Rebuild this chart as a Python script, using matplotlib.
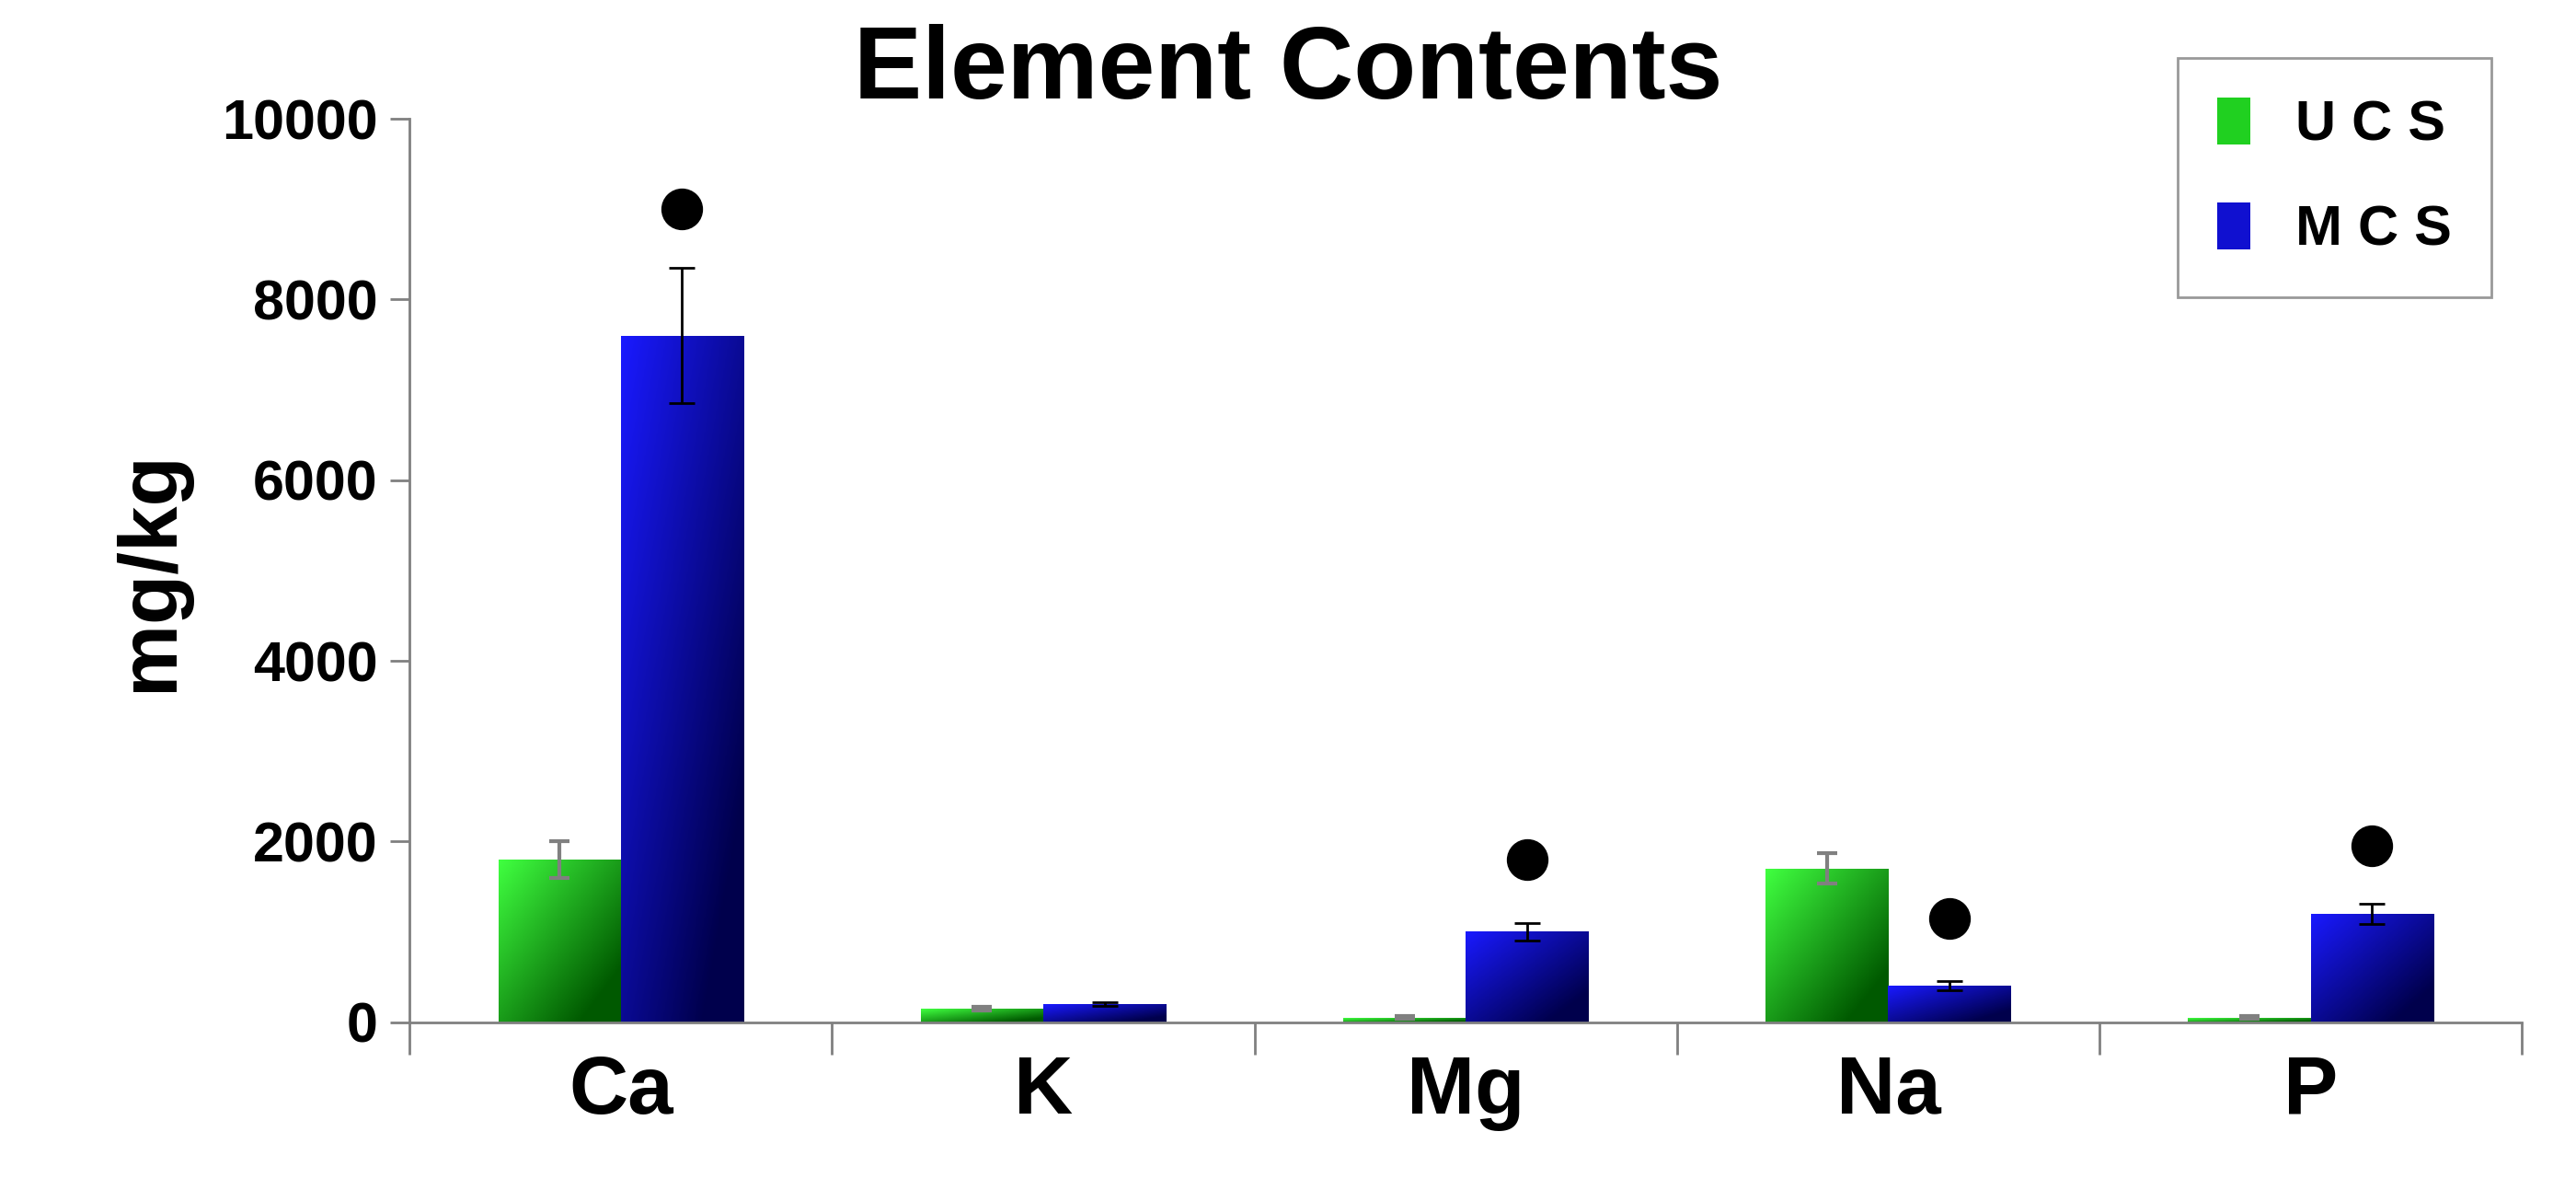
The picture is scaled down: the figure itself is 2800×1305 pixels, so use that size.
import numpy as np
import matplotlib.pyplot as plt
from matplotlib.patches import Patch

elements = ['Ca', 'K', 'Mg', 'Na', 'P']
ucs = [1800, 150, 50, 1700, 50]
ucs_err = [200, 20, 15, 170, 15]
mcs = [7600, 200, 1000, 400, 1200]
mcs_err = [750, 20, 100, 50, 110]
# significance dots (x index, y value)
dot_idx = [0, 2, 3, 4]
dot_y = [9000, 1800, 1150, 1950]

plt.rcParams['font.family'] = ['Liberation Sans', 'DejaVu Sans']

fig = plt.figure(figsize=(28, 13.05), dpi=100)
ax = fig.add_axes([0.159, 0.149, 0.82, 0.752])

x = np.arange(len(elements))
w = 0.29


def grad_bar(xc, h, c_light, c_dark):
    bar = ax.bar(xc, h, w, color='none', edgecolor='none', zorder=2)[0]
    n = 64
    gx, gy = np.meshgrid(np.linspace(0, 1, n), np.linspace(0, 1, n))
    t = np.clip(0.6 * gx + 0.6 * gy, 0, 1)  # dark toward bottom-right
    img = np.array(c_light)[None, None, :] * (1 - t[..., None]) + np.array(c_dark)[None, None, :] * t[..., None]
    im = ax.imshow(img, extent=[xc - w / 2, xc + w / 2, 0, h], origin='upper',
                   aspect='auto', zorder=2)
    im.set_clip_path(bar)


green_l, green_d = (0.25, 1.0, 0.25), (0.0, 0.35, 0.0)
blue_l, blue_d = (0.1, 0.1, 1.0), (0.0, 0.0, 0.3)

for i in range(len(elements)):
    grad_bar(x[i] - w / 2, ucs[i], green_l, green_d)
    grad_bar(x[i] + w / 2, mcs[i], blue_l, blue_d)

ax.errorbar(x - w / 2, ucs, yerr=ucs_err, fmt='none', ecolor='#808080',
            elinewidth=3, capsize=8, capthick=3, zorder=3)
ax.errorbar(x + w / 2, mcs, yerr=mcs_err, fmt='none', ecolor='black',
            elinewidth=2, capsize=10, capthick=2, zorder=3)
ax.scatter(x[dot_idx] + w / 2, dot_y, s=1000, color='black', zorder=4)

ax.set_xlim(-0.5, len(elements) - 0.5)
ax.set_ylim(0, 10000)
ax.set_yticks(range(0, 10001, 2000))
ax.set_xticks(x)
ax.set_xticklabels(elements, fontsize=64, fontweight='bold')
ax.set_xticks(np.arange(-0.5, len(elements)), minor=True)
ax.tick_params(axis='x', which='major', length=0, pad=25)
ax.tick_params(axis='x', which='minor', length=25, width=2, color='#808080')
ax.tick_params(axis='y', labelsize=44, width=2, length=15, color='#808080', pad=10)
for lab in ax.get_yticklabels():
    lab.set_fontweight('bold')
ax.spines['top'].set_visible(False)
ax.spines['right'].set_visible(False)
for s in ['left', 'bottom']:
    ax.spines[s].set_color('#808080')
    ax.spines[s].set_linewidth(2)

ax.set_ylabel('mg/kg', fontsize=64, fontweight='bold', labelpad=25)
fig.text(0.5, 0.94, 'Element Contents', ha='center', va='center',
         fontsize=80, fontweight='bold')

handles = [Patch(facecolor='#20d020', label='U C S'),
           Patch(facecolor='#1010d0', label='M C S')]
leg = fig.legend(handles=handles, loc='upper right', bbox_to_anchor=(0.978, 0.975),
                 frameon=True, fancybox=False, handlelength=0.6,
                 handleheight=0.9, labelspacing=0.9, borderpad=0.7,
                 prop={'weight': 'bold', 'size': 44})
leg.get_frame().set_edgecolor('#808080')
leg.get_frame().set_linewidth(2)

fig.savefig('out.png')
